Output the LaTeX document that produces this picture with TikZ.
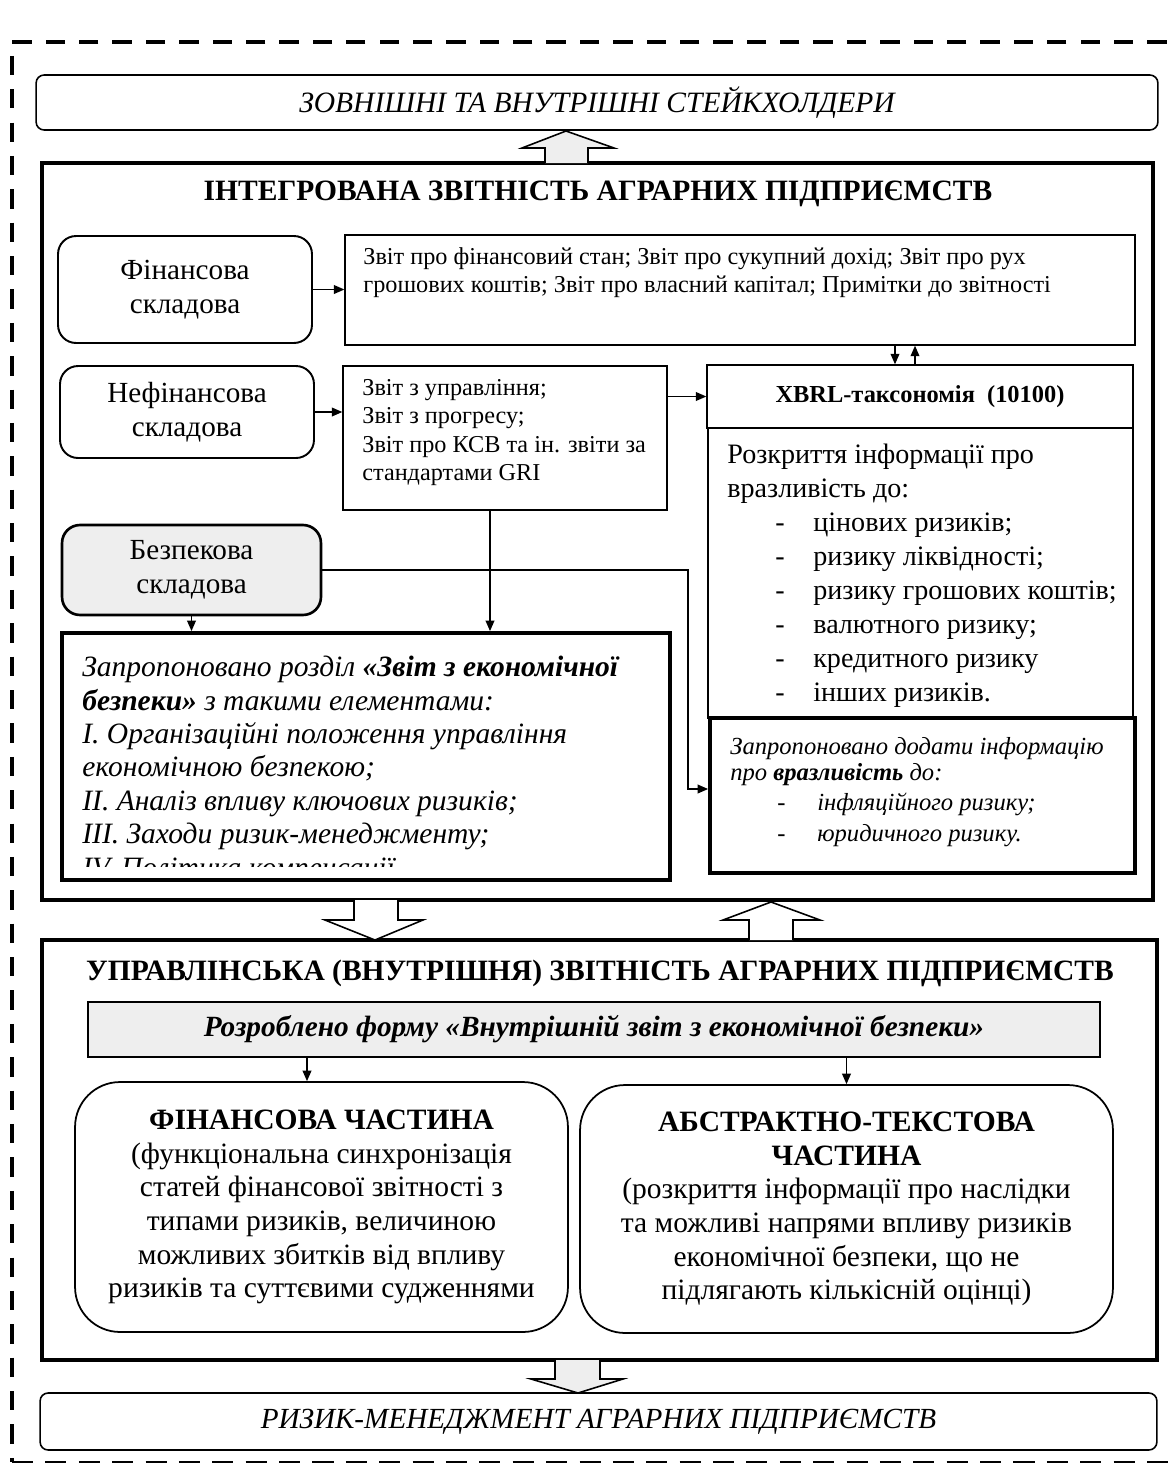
\documentclass[tikz,border=0pt]{standalone}
\usepackage{fontspec}
\setmainfont{Liberation Serif}
\usepackage{tikz}
\usetikzlibrary{arrows.meta,calc,positioning}
\definecolor{panelGray}{RGB}{238,238,238}
\newcommand{\dashitem}[3]{\hspace*{#1}\makebox[#2][l]{-}#3}

\begin{document}
\begin{tikzpicture}[x=0.02cm, y=-0.02cm,
  every node/.style={font=\fontsize{16.6}{19.5}\selectfont, inner sep=0pt},
  plainbox/.style={draw, line width=0.8pt},
  softbox/.style={draw, line width=1.1pt, rounded corners=0.36cm, align=center},
  heavybox/.style={draw, line width=2.2pt},
  framebox/.style={draw, line width=1.9pt},
  widebox/.style={draw, line width=0.9pt, rounded corners=0.16cm},
  partbox/.style={draw, line width=1pt, rounded corners=0.9cm, align=center},
  conn/.style={-{Triangle[length=6pt,width=5pt]}, line width=0.8pt},
  fatarrow/.style={draw, line width=0.9pt, line join=miter},
  smalltext/.style={font=\fontsize{13.8}{16.2}\selectfont, align=left, anchor=north west}]
  \useasboundingbox (0,0) rectangle (1176,1468);
  % outer dashed frame
  \draw[line width=2.2pt, dash pattern=on 11pt off 8pt] (1200,42) -- (12,42) -- (12,1462);
  \draw[line width=1pt, dash pattern=on 12pt off 7pt] (12,1462) -- (1200,1462);

  \node[widebox, minimum width=22.44cm, minimum height=1.1cm, font=\fontsize{16.8}{19}\selectfont\itshape]
    (stake) at (597,102.5) {ЗОВНІШНІ ТА ВНУТРІШНІ СТЕЙКХОЛДЕРИ};

  % integrated reporting
  \node[framebox, minimum width=22.22cm, minimum height=14.74cm] (integ) at (597.5,531.5) {};
  \node[font=\fontsize{16.8}{19}\selectfont\bfseries] (integtitle) at (598,194)
    {ІНТЕГРОВАНА ЗВІТНІСТЬ АГРАРНИХ ПІДПРИЄМСТВ};
  \node[softbox, minimum width=5.08cm, minimum height=2.14cm] (fin) at (185,289.5) {Фінансова\\складова};
  \node[plainbox, minimum width=15.8cm, minimum height=2.2cm] (finrep) at (740,290) {};
  \node[smalltext] (finreptext) at (363,247)
    {Звіт про фінансовий стан; Звіт про сукупний дохід; Звіт про рух\\
     грошових коштів; Звіт про власний капітал; Примітки до звітності};
  \node[softbox, minimum width=5.08cm, minimum height=1.84cm] (nonfin) at (187,412) {Нефінансова\\складова};
  \node[plainbox, minimum width=6.48cm, minimum height=2.88cm] (nonrep) at (505,438) {};
  \node[smalltext] (nonreptext) at (362,379)
    {Звіт з управління;\\ Звіт з прогресу;\\ Звіт про КСВ та ін. звіти за\\ стандартами GRI};
  \node[plainbox, minimum width=8.52cm, minimum height=1.26cm, font=\fontsize{13.9}{16}\selectfont\bfseries]
    (xbrl) at (920,396.5) {XBRL-таксономія\ \ (10100)};
  \node[plainbox, minimum width=8.5cm, minimum height=5.8cm] (discl) at (920.5,573) {};
  \node[align=left, anchor=north west, font=\fontsize{16}{19.3}\selectfont] (discltext) at (727,444)
    {Розкриття інформації про\\ вразливість до:\\
     \dashitem{0.96cm}{0.76cm}{цінових ризиків;}\\
     \dashitem{0.96cm}{0.76cm}{ризику ліквідності;}\\
     \dashitem{0.96cm}{0.76cm}{ризику грошових коштів;}\\
     \dashitem{0.96cm}{0.76cm}{валютного ризику;}\\
     \dashitem{0.96cm}{0.76cm}{кредитного ризику}\\
     \dashitem{0.96cm}{0.76cm}{інших ризиків.}};
  \node[heavybox, fill=white, minimum width=8.5cm, minimum height=3.1cm] (sugg) at (922.5,795.5) {};
  \node[align=left, anchor=north west, font=\fontsize{14}{14.8}\selectfont\itshape] (suggtext) at (730,737)
    {Запропоновано додати інформацію\\ про \textbf{вразливість} до:\\[2.5pt]
     \dashitem{0.94cm}{0.8cm}{інфляційного ризику;}\\[2.5pt]
     \dashitem{0.94cm}{0.8cm}{юридичного ризику.}};
  \node[softbox, line width=1.5pt, fill=panelGray, minimum width=5.18cm, minimum height=1.8cm]
    (secur) at (191.5,570) {Безпекова\\складова};
  \node[heavybox, minimum width=12.16cm, minimum height=4.94cm] (propo) at (366,756.5) {};
  \begin{scope}
    \clip (62,633) rectangle (670,866);
    \node[align=left, anchor=north west, font=\fontsize{16.8}{19}\selectfont\itshape] (propotext) at (82,656)
      {Запропоновано розділ \textbf{«Звіт з економічної}\\ \textbf{безпеки»} з такими елементами:\\
       I. Організаційні положення управління\\ економічною безпекою;\\
       II. Аналіз впливу ключових ризиків;\\ III. Заходи ризик-менеджменту;\\
       IV. Політика компенсації};
  \end{scope}
  % connectors inside
  \coordinate (xdown) at (895,0);
  \coordinate (xup) at (915,0);
  \coordinate (drop) at (490,0);
  \coordinate (bend) at (688,789);
  \draw[conn] (fin.east) -- (fin.east -| finrep.west);
  \draw[conn] (nonfin.east) -- (nonfin.east -| nonrep.west);
  \draw[conn] (nonrep.east |- xbrl.west) -- (xbrl.west);
  \draw[conn] (xdown |- finrep.south) -- (xdown |- xbrl.north);
  \draw[conn] (xup |- xbrl.north) -- (xup |- finrep.south);
  \draw[conn] (drop |- nonrep.south) -- (drop |- propo.north);
  \draw[conn] (secur.south) -- (secur.south |- propo.north);
  \draw[conn] (secur.east) -| (bend) -- (bend -| sugg.west);

  % management reporting
  \node[framebox, minimum width=22.3cm, minimum height=8.4cm] (manag) at (599.5,1150) {};
  \node[font=\fontsize{16.8}{19}\selectfont\bfseries] (managtitle) at (600,973)
    {УПРАВЛІНСЬКА (ВНУТРІШНЯ) ЗВІТНІСТЬ АГРАРНИХ ПІДПРИЄМСТВ};
  \node[plainbox, fill=panelGray, minimum width=20.24cm, minimum height=1.1cm,
    font=\fontsize{16.7}{19}\selectfont\bfseries\itshape] (form) at (594,1029.5)
    {Розроблено форму «Внутрішній звіт з економічної безпеки»};
  \node[partbox, minimum width=9.86cm, minimum height=5cm, font=\fontsize{16.8}{19.2}\selectfont]
    (finpart) at (321.5,1207)
    {\textbf{ФІНАНСОВА ЧАСТИНА}\\ (функціональна синхронізація\\ статей фінансової звітності з\\
     типами ризиків, величиною\\ можливих збитків від впливу\\ ризиків та суттєвими судженнями};
  \node[partbox, minimum width=10.66cm, minimum height=4.96cm, font=\fontsize{16.8}{19.2}\selectfont]
    (abspart) at (846.5,1209)
    {\textbf{АБСТРАКТНО-ТЕКСТОВА}\\ \textbf{ЧАСТИНА}\\ (розкриття інформації про наслідки\\
     та можливі напрями впливу ризиків\\ економічної безпеки, що не\\ підлягають кількісній оцінці)};
  \coordinate (lft) at (307,0);
  \draw[conn] (lft |- form.south) -- (lft |- finpart.north);
  \draw[conn] (abspart.north |- form.south) -- (abspart.north);

  \node[widebox, minimum width=22.34cm, minimum height=1.14cm, font=\fontsize{16.6}{19}\selectfont\itshape]
    (riskm) at (598.5,1421.5) {РИЗИК-МЕНЕДЖМЕНТ АГРАРНИХ ПІДПРИЄМСТВ};

  % hollow arrows between blocks
  \path[fatarrow, fill=panelGray] (545,163) -- (545,148) -- (522,148) -- (566,131) -- (614,148) -- (588,148) -- (588,163);
  \path[fatarrow, fill=white] (354,900) -- (354,920) -- (325,920) -- (375,940) -- (423,920) -- (398,920) -- (398,900);
  \path[fatarrow, fill=white] (749,940) -- (749,920) -- (723,920) -- (771,902) -- (820,920) -- (793,920) -- (793,940);
  \path[fatarrow, fill=panelGray] (555,1360) -- (555,1379) -- (531,1379) -- (578,1393) -- (623,1379) -- (600,1379) -- (600,1360);
\end{tikzpicture}
\end{document}
